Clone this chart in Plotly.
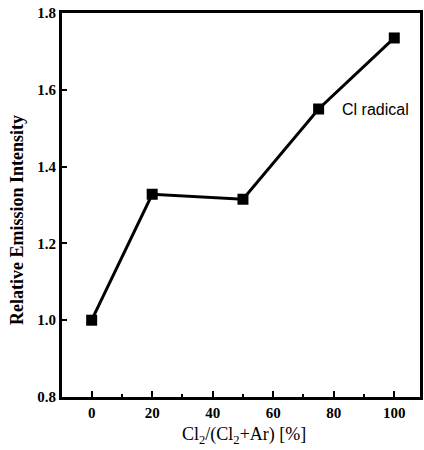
import plotly.graph_objects as go

ratio = [0, 20, 50, 75, 100]
intensity = [1.0, 1.328, 1.315, 1.55, 1.735]
x_ticks = [0, 20, 40, 60, 80, 100]
x_minor = [10, 30, 50, 70, 90]
y_ticks = [0.8, 1.0, 1.2, 1.4, 1.6, 1.8]

serif = "Liberation Serif, Times New Roman, serif"

fig = go.Figure()
fig.add_trace(go.Scatter(
    x=ratio, y=intensity, mode="lines+markers",
    line=dict(color="black", width=3),
    marker=dict(symbol="square", size=11, color="black"),
    showlegend=False,
))

fig.add_annotation(x=105.5, y=1.55, xref="x", yref="y", text="Cl radical",
                   showarrow=False, xanchor="right", yanchor="middle",
                   font=dict(family="Liberation Sans, Arial", size=16, color="black"))

# axis titles
fig.add_annotation(x=0, y=0.5, xref="paper", yref="paper", text="Relative Emission Intensity",
                   showarrow=False, textangle=-90, xanchor="center", yanchor="middle",
                   xshift=-45, yshift=-15,
                   font=dict(family=serif, size=18, color="black", weight="bold"))
fig.add_annotation(x=0.5, y=0, xref="paper", yref="paper",
                   text="Cl<sub>2</sub>/(Cl<sub>2</sub>+Ar) [%]",
                   showarrow=False, xanchor="center", yanchor="middle",
                   xshift=3, yshift=-38,
                   font=dict(family=serif, size=18, color="black"))

fig.update_layout(
    width=424, height=450,
    margin=dict(l=62, r=1, t=13, b=53),
    paper_bgcolor="white", plot_bgcolor="white",
    xaxis=dict(
        range=[-9.8, 108.5], tickvals=x_ticks, ticktext=[str(v) for v in x_ticks],
        ticks="inside", ticklen=6, tickwidth=2, tickcolor="black",
        minor=dict(tickvals=x_minor, ticks="inside", ticklen=3, tickwidth=2, tickcolor="black"),
        showline=True, linecolor="black", linewidth=3, mirror=True,
        showgrid=False, zeroline=False, ticklabeloverflow="allow",
        tickfont=dict(family=serif, size=15, color="black", weight="bold"),
    ),
    yaxis=dict(
        range=[0.8, 1.8], tickvals=y_ticks, ticktext=[f"{v:.1f}" for v in y_ticks],
        ticks="inside", ticklen=5, tickwidth=2, tickcolor="black",
        showline=True, linecolor="black", linewidth=3, mirror=True,
        showgrid=False, zeroline=False, ticklabeloverflow="allow",
        tickfont=dict(family=serif, size=15, color="black", weight="bold"),
    ),
)

fig.write_html("out.html",
               config={"displayModeBar": False},
               post_script="document.body.style.margin='0';document.body.style.overflow='hidden';")
